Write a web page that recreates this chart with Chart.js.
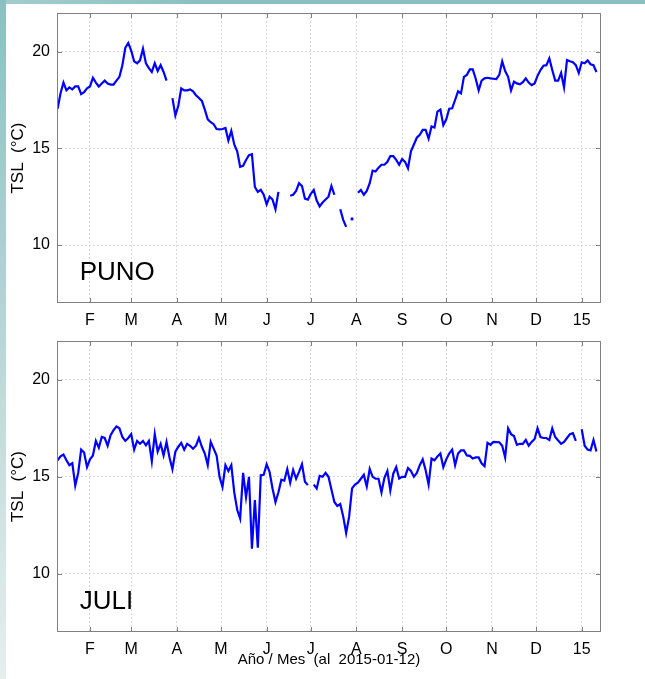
<!DOCTYPE html>
<html>
<head>
<meta charset="utf-8">
<script src="https://cdn.jsdelivr.net/npm/chart.js@4.4.0/dist/chart.umd.min.js"></script>
<style>
  html, body { margin: 0; padding: 0; background: #fff; }
  body { width: 645px; height: 679px; position: relative; overflow: hidden; }
  .edge-top { position: absolute; left: 0; top: 0; width: 645px; height: 4px; background: linear-gradient(to right, #a6cccc, #8cc0c0 30%, #8cc0c0); }
  .edge-left { position: absolute; left: 0; top: 0; width: 6px; height: 679px; background: linear-gradient(to bottom, #8cc0c0, #b9d6d6 50%, #e6eeee); }
  .panel { position: absolute; left: 0; width: 645px; }
  #punoPanel { top: 0; height: 330px; }
  #juliPanel { top: 330px; height: 349px; }
</style>
</head>
<body>
<div class="edge-top"></div>
<div class="edge-left"></div>
<div class="panel" id="punoPanel"><canvas id="punoChart" width="645" height="330"></canvas></div>
<div class="panel" id="juliPanel"><canvas id="juliChart" width="645" height="349"></canvas></div>
<script>
// days counted from 2014-01-01 (day 0); one value every 2 days, 2014-01-10 .. 2015-01-11
const firstDay = 9;
const stepDays = 2;

// month starts (day numbers) and their labels
const monthTicks = [31, 59, 90, 120, 151, 181, 212, 243, 273, 304, 334, 365];
const monthLabels = ['F', 'M', 'A', 'M', 'J', 'J', 'A', 'S', 'O', 'N', 'D', '15'];
const tempTicks = [10, 15, 20];

// TSL at Puno (°C), null = no data
const punoTemps = [
    17.05, 17.85, 18.4, 18.0, 18.15, 18.05, 18.2, 18.2, 17.8, 17.9,
    18.1, 18.2, 18.65, 18.4, 18.2, 18.35, 18.5, 18.35, 18.3, 18.3,
    18.5, 18.7, 19.3, 20.2, 20.45, 20.05, 19.5, 19.4, 19.55, 20.15,
    19.4, 19.15, 18.95, 19.4, 19.0, 19.3, 18.95, 18.5, null, 17.6,
    16.7, 17.2, 18.1, 18.0, 18.0, 18.05, 17.95, 17.75, 17.6, 17.45,
    17.0, 16.5, 16.35, 16.25, 16.0, 15.98, 16.0, 16.05, 15.4, 15.9,
    15.2, 14.85, 14.05, 14.1, 14.4, 14.65, 14.7, 13.0, 12.75, 12.85,
    12.6, 12.1, 12.5, 12.35, 11.85, 12.75, null, null, null, 12.55,
    12.6, 12.8, 13.2, 13.05, 12.4, 12.35, 12.65, 12.85, 12.3, 12.0,
    12.2, 12.35, 12.5, 13.05, 12.6, null, 11.85, 11.3, 10.94, null,
    11.35, null, 12.7, 12.85, 12.6, 12.8, 13.2, 13.85, 13.8, 14.0,
    14.15, 14.15, 14.3, 14.6, 14.6, 14.4, 14.15, 14.45, 14.3, 13.97,
    14.85, 15.2, 15.55, 15.7, 15.95, 15.95, 15.5, 16.13, 16.08, 16.9,
    17.0, 16.2, 16.5, 17.05, 17.07, 17.5, 17.95, 17.84, 18.7, 18.8,
    19.08, 19.08, 18.6, 18.0, 18.5, 18.62, 18.65, 18.62, 18.6, 18.58,
    18.8, 19.5, 19.0, 18.7, 18.0, 18.45, 18.36, 18.31, 18.42, 18.62,
    18.4, 18.27, 18.36, 18.75, 19.05, 19.27, 19.3, 19.65, 19.05, 18.5,
    18.5, 18.9, 18.15, 19.56, 19.5, 19.45, 19.3, 18.9, 19.45, 19.4,
    19.55, 19.35, 19.3, 18.95
];

// TSL at Juli (°C)
const juliTemps = [
    15.85, 16.05, 16.15, 15.85, 15.6, 15.7, 14.55, 15.2, 16.4, 16.25,
    15.5, 15.9, 16.1, 16.85, 16.5, 17.05, 17.0, 16.6, 17.15, 17.4,
    17.6, 17.5, 17.05, 16.85, 17.0, 17.2, 16.4, 16.85, 16.7, 16.85,
    16.62, 16.85, 15.8, 17.2, 16.3, 16.7, 16.1, 16.79, 16.0, 15.4,
    16.3, 16.55, 16.75, 16.4, 16.7, 16.6, 16.45, 16.6, 17.0, 16.55,
    16.2, 15.6, 16.8, 16.45, 16.1, 15.0, 14.48, 15.6, 15.3, 15.6,
    14.2, 13.3, 12.85, 15.2, 13.95, 15.0, 11.3, 13.8, 11.35, 15.08,
    15.1, 15.65, 15.25, 14.4, 13.7, 14.2, 14.85, 14.8, 15.4, 14.7,
    15.35, 14.9, 15.25, 15.65, 14.75, 14.57, null, 14.6, 14.4, 15.05,
    15.0, 15.2, 15.0, 14.35, 13.7, 13.5, 13.6, 12.95, 12.1, 12.93,
    14.4, 14.6, 14.7, 14.9, 15.1, 14.5, 15.4, 15.0, 14.9, 14.9,
    14.2, 14.95, 15.3, 14.3, 15.16, 15.5, 14.91, 15.0, 15.0, 15.45,
    15.3, 15.0, 15.2, 15.6, 15.9, 15.34, 14.6, 15.94, 15.85, 16.05,
    16.2, 15.5, 15.9, 16.2, 16.4, 15.6, 16.2, 16.36, 16.36, 16.1,
    16.08, 15.94, 16.0, 16.0, 15.7, 15.55, 16.75, 16.65, 16.8, 16.79,
    16.78, 16.6, 16.0, 17.5, 17.2, 17.1, 16.65, 16.7, 16.7, 16.9,
    16.6, 16.8, 16.95, 17.5, 17.05, 17.0, 17.0, 16.9, 17.5, 17.05,
    16.87, 16.7, 16.8, 17.0, 17.2, 17.25, 16.85, null, 17.45, 16.6,
    16.4, 16.36, 16.9, 16.3
];

const fontFamily = '"Liberation Sans", Arial, Helvetica, sans-serif';

// box round the plot, inward tick marks and the station name
const framePlugin = {
    id: 'framePlugin',
    afterDraw(chart, args, opts) {
        const ctx = chart.ctx;
        const a = chart.chartArea;
        const xs = chart.scales.x;
        const ys = chart.scales.y;
        ctx.save();
        ctx.strokeStyle = '#808080';
        ctx.lineWidth = 1;
        ctx.strokeRect(a.left + 0.5, a.top + 0.5, a.right - a.left - 1, a.bottom - a.top - 1);
        ctx.beginPath();
        xs.ticks.forEach(t => {
            const px = Math.round(xs.getPixelForValue(t.value)) + 0.5;
            ctx.moveTo(px, a.bottom); ctx.lineTo(px, a.bottom - 5);
            ctx.moveTo(px, a.top); ctx.lineTo(px, a.top + 5);
        });
        ys.ticks.forEach(t => {
            const py = Math.round(ys.getPixelForValue(t.value)) + 0.5;
            ctx.moveTo(a.left, py); ctx.lineTo(a.left + 5, py);
            ctx.moveTo(a.right, py); ctx.lineTo(a.right - 5, py);
        });
        ctx.stroke();

        ctx.fillStyle = '#000';
        ctx.font = '26px ' + fontFamily;
        ctx.textAlign = 'left';
        ctx.textBaseline = 'alphabetic';
        ctx.fillText(opts.station, xs.getPixelForValue(24), ys.getPixelForValue(8.2));
        ctx.restore();
    }
};

function makeChart(canvasId, temps, station, topPad, xHeight, xTitle) {
    const points = temps.map((v, i) => ({ x: firstDay + i * stepDays, y: v }));
    return new Chart(document.getElementById(canvasId), {
        type: 'line',
        data: {
            datasets: [{
                data: points,
                borderColor: '#0000ff',
                borderWidth: 2.2,
                tension: 0,
                spanGaps: false,
                // a lone value between gaps shows as a dot
                pointRadius: c => {
                    const i = c.dataIndex;
                    return temps[i] != null && temps[i - 1] == null && temps[i + 1] == null ? 1.6 : 0;
                },
                pointBackgroundColor: '#0000ff',
                pointBorderWidth: 0
            }]
        },
        options: {
            responsive: false,
            animation: false,
            layout: { padding: { left: 0, right: 44, top: topPad, bottom: 0 } },
            plugins: {
                legend: { display: false },
                tooltip: { enabled: false },
                framePlugin: { station: station }
            },
            scales: {
                x: {
                    type: 'linear',
                    min: 8.6,
                    max: 378.1,
                    afterBuildTicks: s => { s.ticks = monthTicks.map(v => ({ value: v })); },
                    afterFit: s => {
                        s.height = xHeight;
                        s.paddingLeft = 0;
                        s.paddingRight = 0;
                    },
                    ticks: {
                        autoSkip: false,
                        maxRotation: 0,
                        padding: 8,
                        color: '#000',
                        font: { family: fontFamily, size: 16 },
                        callback: v => monthLabels[monthTicks.indexOf(v)]
                    },
                    grid: { color: '#dadada', drawTicks: false },
                    border: { display: false, dash: [2, 2] },
                    title: {
                        display: !!xTitle,
                        text: xTitle || '',
                        color: '#000',
                        font: { family: fontFamily, size: 15 },
                        padding: { top: 0, bottom: 10 }
                    }
                },
                y: {
                    min: 7,
                    max: 22,
                    afterBuildTicks: s => { s.ticks = tempTicks.map(v => ({ value: v })); },
                    afterFit: s => {
                        s.width = 57;
                        s.paddingTop = 0;
                        s.paddingBottom = 0;
                    },
                    ticks: {
                        padding: 7,
                        color: '#000',
                        font: { family: fontFamily, size: 16 }
                    },
                    grid: { color: '#dadada', drawTicks: false },
                    border: { display: false, dash: [2, 2] },
                    title: {
                        display: true,
                        text: 'TSL  (°C)',
                        color: '#000',
                        font: { family: fontFamily, size: 17 },
                        padding: { top: 8, bottom: 0 }
                    }
                }
            }
        },
        plugins: [framePlugin]
    });
}

makeChart('punoChart', punoTemps, 'PUNO', 13, 27, null);
makeChart('juliChart', juliTemps, 'JULI', 11, 47, 'Año / Mes  (al  2015-01-12)');
</script>
</body>
</html>
